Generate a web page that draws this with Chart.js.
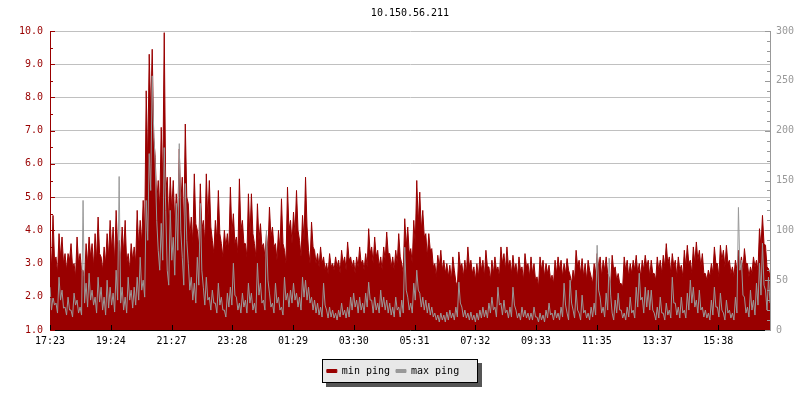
<!DOCTYPE html>
<html>
<head>
<meta charset="utf-8">
<title>10.150.56.211</title>
<script src="https://cdn.jsdelivr.net/npm/chart.js@4.4.0/dist/chart.umd.min.js"></script>
<style>
  html, body { margin: 0; padding: 0; background: #fff; }
  #wrap { width: 800px; height: 400px; }
</style>
</head>
<body>
<div id="wrap"><canvas id="pingChart" width="800" height="400"></canvas></div>
<script>
// x axis: 24h window, a label roughly every 2 hours
const timeLabels = ["17:23", "19:24", "21:27", "23:28", "01:29", "03:30",
  "05:31", "07:32", "09:33", "11:35", "13:37", "15:38"];
const spanMinutes = 1440;
const labelStep = 121.5;

// min ping, left axis (1.0 - 10.0), one sample every 3 minutes
const minPing = [
  3.5, 2.9, 4.45, 3.1, 3.2, 2.7, 3.9, 3.2, 3.8, 3.0, 3.3, 2.8, 3.3, 3.1, 3.6, 2.9, 3.0, 2.6, 3.8, 3.0,
  3.3, 2.8, 2.8, 2.5, 3.6, 3.0, 3.8, 3.2, 3.6, 2.9, 3.9, 3.1, 4.4, 3.3, 3.2, 2.8, 3.5, 3.0, 3.9, 3.2,
  4.3, 3.4, 4.1, 3.0, 4.6, 3.5, 3.7, 3.1, 4.1, 3.3, 4.3, 3.0, 3.3, 2.8, 3.6, 3.1, 3.5, 3.0, 4.6, 3.5,
  4.3, 3.6, 4.9, 3.9, 8.2, 6.0, 9.3, 7.5, 9.45, 6.8, 6.2, 4.8, 5.5, 4.6, 7.1, 5.4, 9.95, 5.2, 5.6, 4.2,
  5.6, 4.6, 5.5, 4.2, 5.1, 4.4, 6.45, 4.8, 5.6, 3.9, 7.2, 5.0, 4.8, 3.8, 4.4, 3.6, 5.7, 4.2, 4.0, 3.5,
  5.4, 4.0, 4.3, 3.6, 5.7, 4.3, 5.5, 4.1, 3.7, 3.3, 4.3, 3.7, 5.2, 3.9, 3.6, 3.2, 4.0, 3.5, 3.9, 3.4,
  5.3, 3.9, 4.5, 3.6, 3.8, 3.3, 5.55, 4.0, 4.3, 3.6, 3.6, 3.2, 5.1, 3.8, 5.1, 3.9, 3.6, 3.2, 4.8, 3.7,
  4.2, 3.5, 3.6, 3.2, 3.9, 3.4, 4.7, 3.8, 4.1, 3.5, 3.6, 3.1, 4.0, 3.4, 4.95, 3.6, 3.4, 3.0, 5.3, 4.0,
  4.3, 3.6, 4.55, 3.9, 5.2, 4.0, 3.7, 3.2, 4.45, 3.7, 5.6, 4.1, 3.4, 3.0, 4.25, 3.5, 3.4, 3.0, 3.3, 2.9,
  3.5, 3.0, 3.2, 2.8, 3.0, 2.7, 3.3, 2.9, 3.0, 2.8, 3.2, 2.9, 3.1, 2.7, 3.4, 3.0, 3.2, 2.8, 3.65, 3.1,
  3.2, 2.9, 3.1, 2.7, 3.2, 2.9, 3.5, 3.0, 3.1, 2.8, 3.3, 2.9, 4.05, 3.3, 3.5, 3.0, 3.8, 3.2, 3.4, 2.9,
  3.2, 2.8, 3.5, 3.1, 3.95, 3.3, 3.3, 2.9, 3.2, 2.8, 3.4, 3.0, 3.9, 3.2, 3.0, 2.7, 4.35, 3.5, 4.1, 3.3,
  3.45, 3.0, 4.3, 3.6, 5.5, 4.2, 5.15, 4.0, 4.6, 3.8, 3.9, 3.2, 3.9, 3.4, 3.45, 2.9, 3.0, 2.6, 3.25, 2.9,
  3.4, 2.8, 3.1, 2.7, 3.0, 2.6, 2.95, 2.5, 3.2, 2.8, 2.45, 2.3, 3.35, 2.9, 3.0, 2.6, 3.1, 2.7, 3.5, 2.9,
  3.1, 2.7, 2.9, 2.5, 3.0, 2.6, 3.2, 2.8, 3.1, 2.6, 3.4, 2.9, 2.9, 2.5, 3.1, 2.7, 3.2, 2.8, 2.9, 2.6,
  3.5, 3.0, 3.3, 2.8, 3.5, 2.9, 3.1, 2.7, 3.25, 2.8, 3.0, 2.6, 3.2, 2.8, 2.9, 2.5, 3.3, 2.9, 3.0, 2.6,
  3.2, 2.7, 3.0, 2.5, 2.6, 2.3, 3.2, 2.8, 3.1, 2.6, 3.0, 2.7, 2.95, 2.5, 2.65, 2.4, 3.1, 2.7, 3.2, 2.8,
  3.1, 2.6, 3.0, 2.7, 3.15, 2.8, 2.65, 2.4, 2.8, 2.5, 3.4, 2.9, 3.1, 2.7, 3.15, 2.6, 3.0, 2.5, 3.1, 2.8,
  2.6, 2.4, 3.0, 2.7, 3.3, 2.9, 3.2, 2.6, 3.1, 2.8, 3.2, 2.7, 2.6, 2.4, 3.25, 2.8, 2.9, 2.5, 2.7, 2.4,
  2.4, 2.3, 3.2, 2.8, 3.1, 2.6, 3.0, 2.7, 3.1, 2.8, 3.25, 2.7, 3.0, 2.6, 3.1, 2.8, 3.25, 2.9, 3.1, 2.6,
  3.1, 2.7, 2.7, 2.5, 3.2, 2.8, 3.1, 2.7, 3.25, 2.9, 3.6, 3.0, 3.2, 2.7, 3.3, 2.9, 3.1, 2.6, 3.2, 2.8,
  2.95, 2.6, 3.4, 2.9, 3.55, 3.0, 3.1, 2.7, 3.5, 3.0, 3.65, 3.1, 3.4, 2.9, 3.3, 2.7, 2.7, 2.5, 2.8, 2.6,
  3.0, 2.7, 3.5, 3.0, 3.0, 2.6, 3.55, 3.1, 3.4, 2.9, 3.55, 3.0, 3.1, 2.7, 2.9, 2.6, 3.1, 2.8, 3.4, 2.9,
  3.2, 2.8, 3.45, 3.0, 3.0, 2.6, 2.9, 2.7, 3.2, 2.9, 3.1, 2.8, 4.05, 3.5, 4.45, 3.6, 3.55, 2.9, 2.85, 2.6
];

// max ping, right axis (0 - 300), same sampling
const maxPing = [
  43, 20, 33, 25, 27, 17, 53, 30, 40, 22, 23, 15, 33, 20, 20, 13, 37, 25, 30, 17,
  23, 15, 130, 27, 47, 23, 57, 30, 40, 25, 33, 17, 53, 28, 43, 20, 33, 15, 50, 22,
  43, 25, 37, 18, 60, 30, 154, 27, 43, 20, 33, 17, 53, 30, 40, 22, 43, 25, 53, 30,
  73, 40, 50, 33, 130, 90, 177, 140, 255, 200, 167, 110, 80, 60, 107, 70, 183, 120, 60, 45,
  120, 70, 93, 55, 127, 80, 187, 100, 73, 45, 147, 90, 67, 40, 53, 30, 47, 27, 73, 45,
  127, 60, 43, 25, 53, 30, 33, 20, 40, 27, 27, 17, 47, 25, 33, 20, 20, 13, 37, 23,
  43, 25, 67, 35, 33, 20, 27, 17, 37, 23, 30, 17, 47, 27, 37, 20, 27, 17, 67, 35,
  47, 27, 30, 20, 100, 50, 37, 23, 27, 17, 47, 27, 33, 20, 23, 15, 53, 30, 37, 23,
  40, 27, 47, 30, 37, 23, 33, 20, 53, 33, 50, 30, 43, 27, 33, 20, 30, 17, 27, 15,
  23, 13, 47, 25, 20, 12, 23, 13, 20, 12, 17, 10, 20, 13, 27, 15, 20, 12, 23, 13,
  33, 20, 37, 23, 30, 17, 33, 20, 27, 17, 37, 23, 48, 30, 30, 17, 33, 20, 27, 17,
  40, 23, 33, 20, 30, 17, 27, 15, 23, 13, 33, 20, 23, 13, 30, 17, 83, 40, 33, 20,
  27, 17, 47, 30, 60, 40, 37, 23, 33, 20, 30, 17, 27, 15, 23, 13, 17, 10, 15, 8,
  17, 10, 15, 8, 18, 10, 20, 12, 17, 10, 23, 13, 48, 27, 23, 13, 20, 12, 17, 10,
  18, 10, 15, 8, 17, 10, 20, 12, 23, 13, 20, 12, 27, 17, 33, 20, 23, 13, 43, 25,
  27, 15, 30, 17, 20, 12, 23, 13, 43, 25, 20, 12, 17, 10, 23, 13, 20, 12, 17, 10,
  17, 10, 23, 13, 13, 8, 17, 10, 15, 8, 20, 12, 27, 15, 17, 10, 20, 12, 17, 10,
  23, 13, 47, 25, 17, 10, 50, 27, 20, 12, 40, 20, 17, 10, 35, 17, 20, 12, 17, 10,
  23, 13, 27, 15, 85, 40, 33, 17, 23, 13, 37, 20, 72, 35, 17, 10, 30, 17, 37, 20,
  20, 12, 17, 10, 23, 13, 33, 17, 20, 12, 43, 23, 57, 30, 33, 17, 43, 23, 40, 20,
  40, 20, 17, 10, 23, 12, 33, 17, 17, 10, 27, 15, 20, 12, 53, 27, 27, 15, 23, 12,
  33, 17, 20, 12, 37, 20, 50, 27, 43, 23, 30, 17, 40, 20, 23, 13, 20, 12, 17, 10,
  30, 15, 43, 23, 23, 13, 37, 20, 17, 10, 30, 17, 20, 12, 17, 10, 33, 17, 123, 60,
  70, 35, 33, 17, 23, 13, 40, 20, 30, 15, 47, 25, 67, 35, 87, 45, 40, 20, 53, 27
];

const RED = "#990000";
const GREY = "#999999";
const monoFont = { family: "'DejaVu Sans Mono', monospace", size: 10 };

Chart.defaults.font.family = monoFont.family;
Chart.defaults.font.size = monoFont.size;

const toPoints = (arr) =>
  arr.map((v, i) => ({ x: (i * spanMinutes) / (arr.length - 1), y: v }));

// grey box with drop shadow behind the legend
const legendBox = {
  id: "legendBox",
  beforeDraw(chart) {
    const hb = chart.legend && chart.legend.legendHitBoxes;
    if (!hb || !hb.length) return;
    const ctx = chart.ctx;
    const last = hb[hb.length - 1];
    const left = Math.round(hb[0].left - 5);
    const right = Math.round(last.left + last.width + 19);
    const mid = hb[0].top + hb[0].height / 2;
    const top = Math.round(mid - 12);
    const w = right - left;
    const h = 24;
    ctx.save();
    ctx.fillStyle = "#555555";
    ctx.fillRect(left + 4, top + 4, w, h);
    ctx.fillStyle = "#e8e8e8";
    ctx.fillRect(left, top, w, h);
    ctx.strokeStyle = "#000";
    ctx.lineWidth = 1;
    ctx.strokeRect(left + 0.5, top + 0.5, w - 1, h - 1);
    ctx.restore();
  }
};

// small tick marks drawn on the inside of each axis
const innerTicks = {
  id: "innerTicks",
  afterDatasetsDraw(chart) {
    const { ctx } = chart;
    const { x, y, y1 } = chart.scales;
    ctx.save();
    ctx.lineWidth = 1;
    const line = (x0, y0, x2, y2) => {
      ctx.beginPath();
      ctx.moveTo(x0, y0);
      ctx.lineTo(x2, y2);
      ctx.stroke();
    };
    ctx.strokeStyle = RED;
    y.ticks.forEach((t) => {
      const py = Math.round(y.getPixelForValue(t.value)) + 0.5;
      line(y.right, py, y.right + (Number.isInteger(t.value) ? 5 : 3), py);
    });
    ctx.strokeStyle = GREY;
    y1.ticks.forEach((t) => {
      const py = Math.round(y1.getPixelForValue(t.value)) + 0.5;
      line(y1.left - (t.value % 50 === 0 ? 5 : 3), py, y1.left, py);
    });
    ctx.strokeStyle = "#000";
    x.ticks.forEach((t) => {
      const px = Math.round(x.getPixelForValue(t.value)) + 0.5;
      line(px, x.top, px, x.top - 5);
    });
    ctx.restore();
  }
};

new Chart(document.getElementById("pingChart").getContext("2d"), {
  type: "line",
  data: {
    datasets: [
      {
        label: "min ping",
        data: toPoints(minPing),
        yAxisID: "y",
        borderColor: RED,
        backgroundColor: RED,
        borderWidth: 1,
        pointRadius: 0,
        tension: 0,
        fill: "start",
        order: 2
      },
      {
        label: "max ping",
        data: toPoints(maxPing),
        yAxisID: "y1",
        borderColor: GREY,
        backgroundColor: GREY,
        borderWidth: 1,
        pointRadius: 0,
        tension: 0,
        fill: false,
        order: 1
      }
    ]
  },
  options: {
    responsive: false,
    animation: false,
    devicePixelRatio: 1,
    events: [],
    // legend sits a little left of centre, so pad the left edge negative
    layout: { padding: { left: -14, right: 0, top: 0, bottom: 14 } },
    plugins: {
      title: {
        display: true,
        fullSize: false,
        text: "10.150.56.211",
        color: "#000",
        font: { family: monoFont.family, size: 10, weight: "normal" },
        padding: { top: 7, bottom: 12 }
      },
      legend: {
        display: true,
        position: "bottom",
        labels: {
          color: "#000",
          boxWidth: 10,
          boxHeight: 3,
          padding: 6,
          font: monoFont,
          sort: (a, b) => a.datasetIndex - b.datasetIndex
        }
      },
      tooltip: { enabled: false }
    },
    scales: {
      x: {
        type: "linear",
        min: 0,
        max: spanMinutes,
        afterBuildTicks: (scale) => {
          scale.ticks = timeLabels.map((t, k) => ({ value: k * labelStep }));
        },
        afterFit: (scale) => {
          scale.height = 30;
        },
        ticks: {
          callback: (v, idx) => timeLabels[idx],
          color: "#000",
          padding: 5,
          maxRotation: 0,
          autoSkip: false,
          font: monoFont
        },
        grid: { drawOnChartArea: false, drawTicks: false },
        border: { color: "#000", width: 1 }
      },
      y: {
        position: "left",
        min: 1,
        max: 10,
        afterFit: (scale) => {
          scale.width = 64;
        },
        ticks: {
          stepSize: 0.5,
          autoSkip: false,
          color: RED,
          padding: 7,
          font: monoFont,
          callback: (v) => (Number.isInteger(v) ? v.toFixed(1) : "")
        },
        grid: {
          drawTicks: false,
          color: (c) => (c.tick && Number.isInteger(c.tick.value) ? "#c0c0c0" : "rgba(0,0,0,0)")
        },
        border: { color: RED, width: 1 }
      },
      y1: {
        position: "right",
        min: 0,
        max: 300,
        afterFit: (scale) => {
          scale.width = 30;
        },
        ticks: {
          stepSize: 10,
          autoSkip: false,
          color: GREY,
          padding: 6,
          font: monoFont,
          callback: (v) => (v % 50 === 0 ? String(v) : "")
        },
        grid: { drawOnChartArea: false, drawTicks: false },
        border: { color: GREY, width: 1 }
      }
    }
  },
  plugins: [legendBox, innerTicks]
});
</script>
</body>
</html>
